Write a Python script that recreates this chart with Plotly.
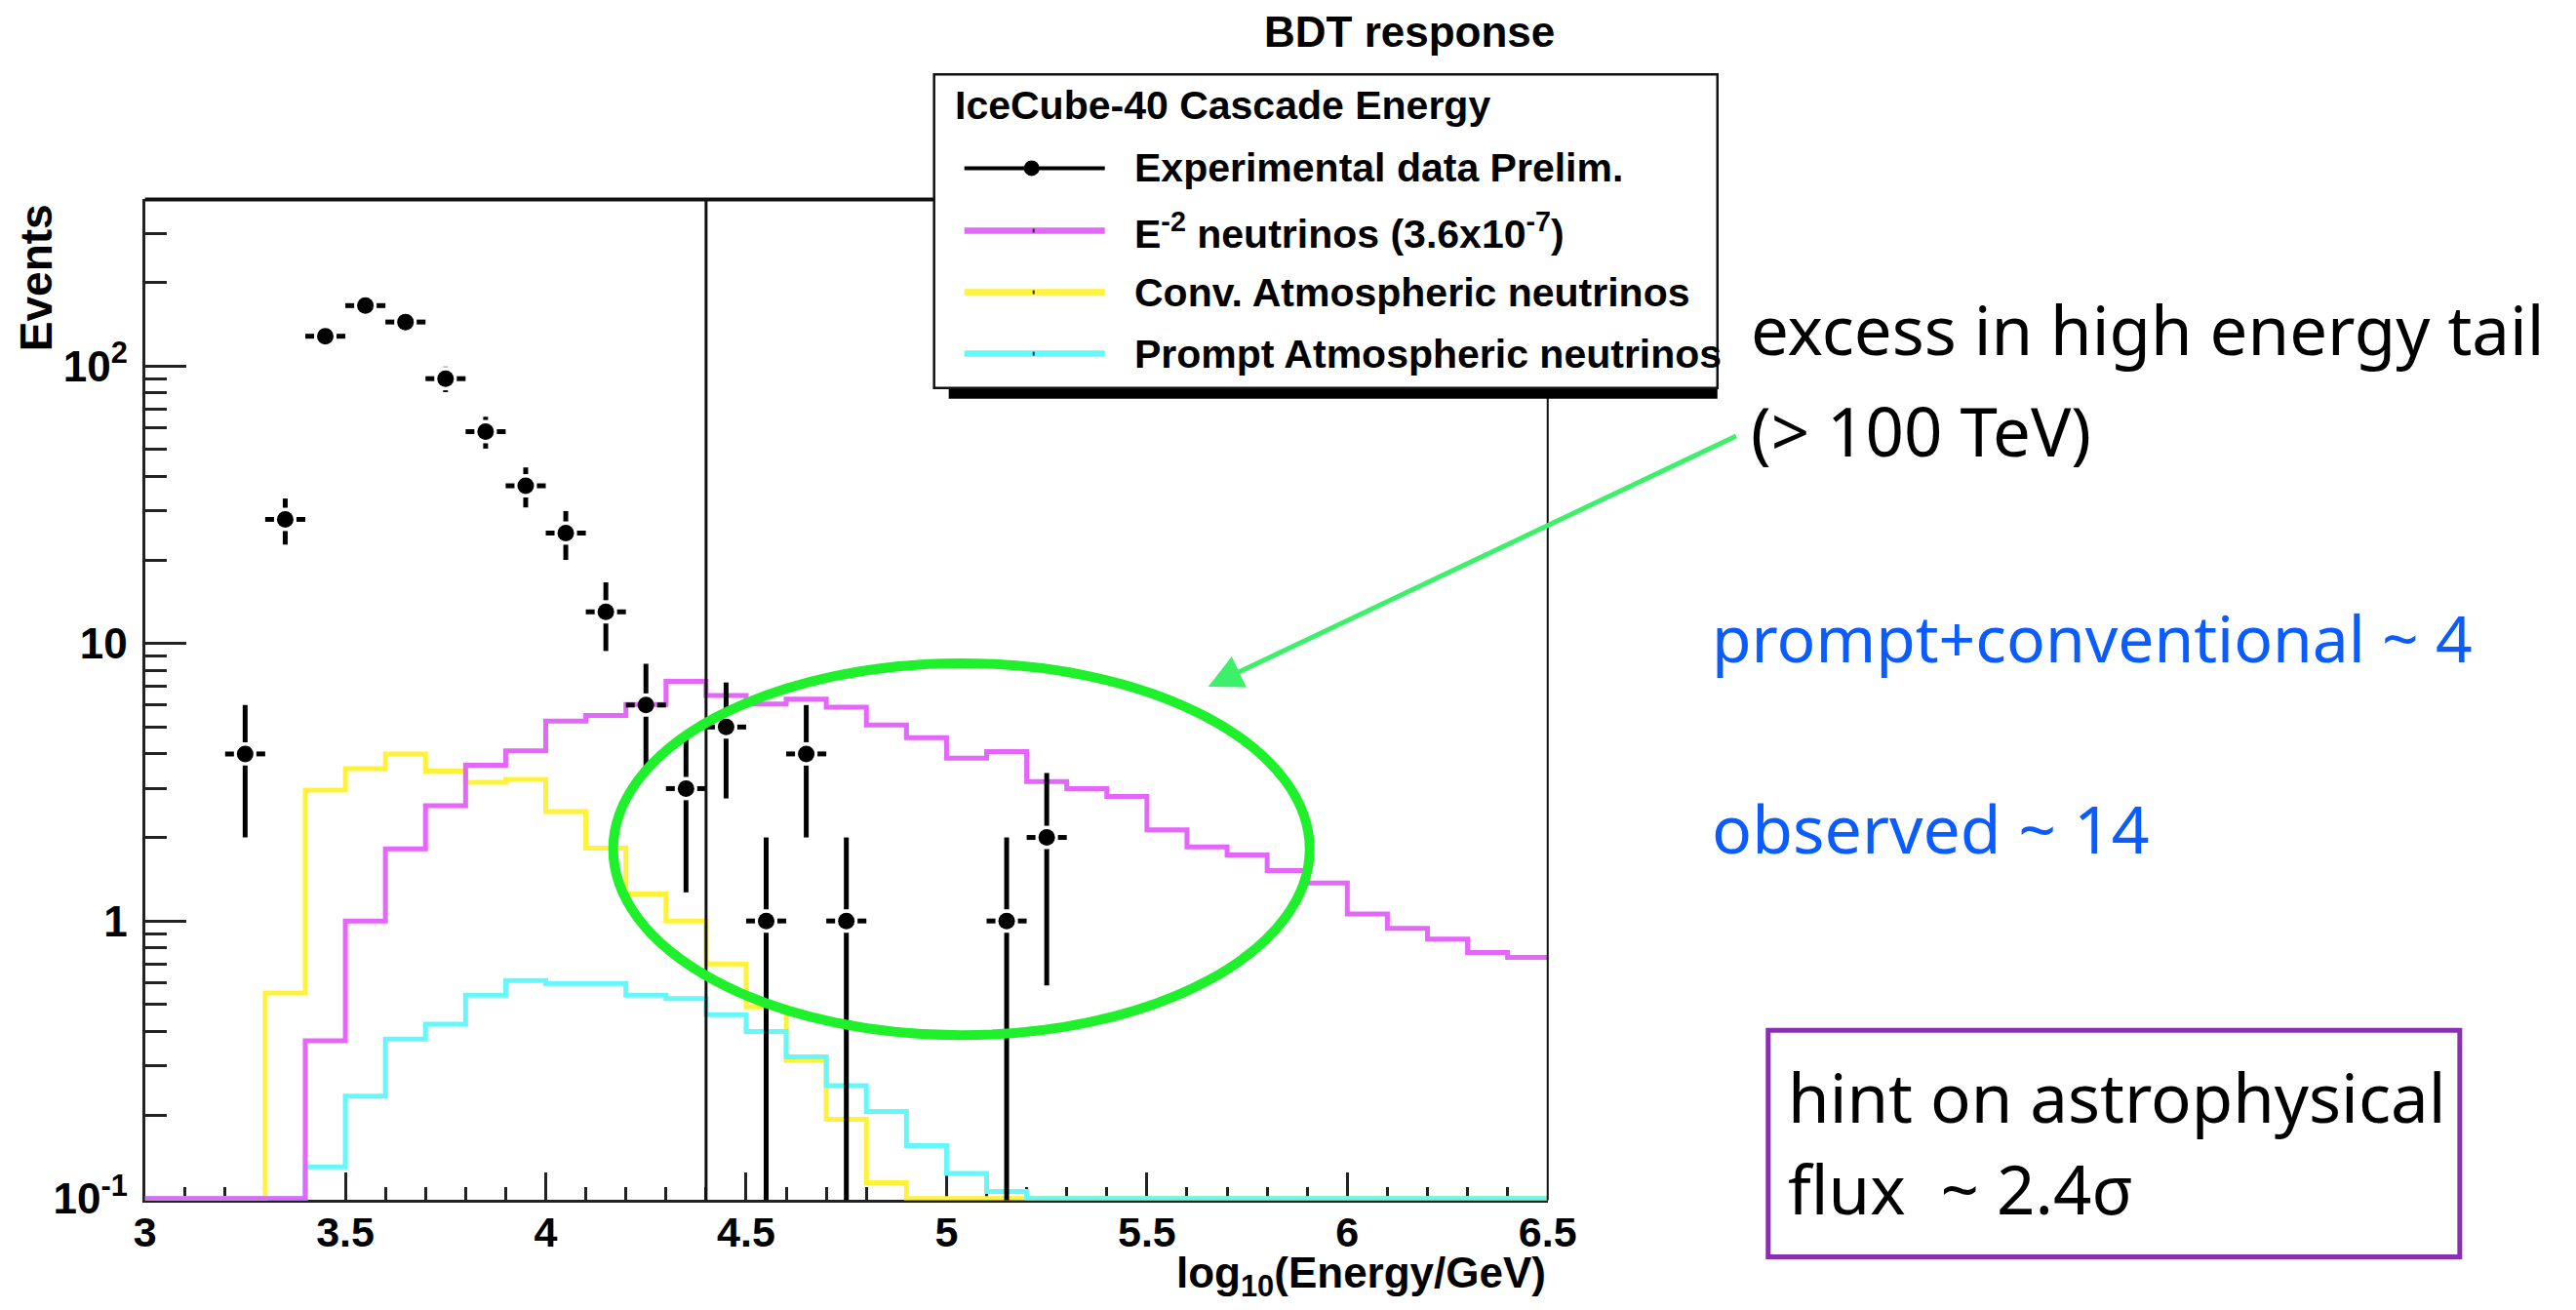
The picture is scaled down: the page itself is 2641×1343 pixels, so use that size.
import numpy as np
import plotly.graph_objects as go

# ---------------- data ----------------
bin_edges = [3.0, 3.1, 3.2, 3.3, 3.4, 3.5, 3.6, 3.7, 3.8, 3.9, 4.0, 4.1, 4.2, 4.3,
             4.4, 4.5, 4.6, 4.7, 4.8, 4.9, 5.0, 5.1, 5.2, 5.3, 5.4, 5.5, 5.6, 5.7,
             5.8, 5.9, 6.0, 6.1, 6.2, 6.3, 6.4, 6.5]

e2_neutrinos = [0, 0, 0, 0, 0.37, 1.0, 1.82, 2.6, 3.64, 4.1, 5.25, 5.5, 6.03, 7.3,
                6.5, 6.05, 6.3, 5.9, 5.08, 4.58, 3.86, 4.08, 3.18, 3.0, 2.81, 2.13,
                1.85, 1.73, 1.52, 1.37, 1.06, 0.94, 0.86, 0.77, 0.74]

conv_atmospheric = [0, 0, 0, 0.55, 2.96, 3.54, 4.0, 3.47, 3.16, 3.24, 2.48, 1.83,
                    1.25, 1.0, 0.70, 0.49, 0.314, 0.193, 0.114, 0, 0, 0, 0, 0, 0,
                    0, 0, 0, 0, 0, 0, 0, 0, 0, 0]

prompt_atmospheric = [0, 0, 0, 0, 0.13, 0.234, 0.375, 0.425, 0.54, 0.61, 0.595,
                      0.595, 0.54, 0.525, 0.46, 0.40, 0.324, 0.255, 0.206, 0.155,
                      0.123, 0.106, 0, 0, 0, 0, 0, 0, 0, 0, 0, 0, 0, 0, 0]

data_centers = [3.25, 3.35, 3.45, 3.55, 3.65, 3.75, 3.85, 3.95, 4.05, 4.15, 4.25,
                4.35, 4.45, 4.55, 4.65, 4.75, 5.15, 5.25]
data_counts = [4, 28, 128, 165, 144, 90, 58, 37, 25, 13, 6, 3, 5, 1, 4, 1, 1, 2]

cut_value = 4.4

x_tick_vals = [3, 3.5, 4, 4.5, 5, 5.5, 6, 6.5]
x_tick_text = ["3", "3.5", "4", "4.5", "5", "5.5", "6", "6.5"]
y_tick_vals = [0.1, 1, 10, 100]
y_tick_text = ["10<sup>-1</sup>", "1", "10", "10<sup>2</sup>"]
y_minor_vals = [0.2, 0.3, 0.4, 0.5, 0.6, 0.7, 0.8, 0.9,
                2, 3, 4, 5, 6, 7, 8, 9,
                20, 30, 40, 50, 60, 70, 80, 90, 200, 300]

legend_labels = ["Experimental data Prelim.",
                 "E<sup>-2</sup> neutrinos (3.6x10<sup>-7</sup>)",
                 "Conv. Atmospheric neutrinos",
                 "Prompt Atmospheric neutrinos"]

# ---------------- styling ----------------
W, H = 2641, 1343
MAGENTA = "#e466fb"
YELLOW = "#fff23a"
CYAN = "#66f7fb"
AXC = "#222222"
ROOT_FONT = "Liberation Sans"
HAND_FONT = "Noto Sans"
BLUE = "#0a5cff"

# the captured page comes out slightly scaled; place things so that they land
# on the intended pixel positions of the 2641x1343 picture
SX, OX = 0.984, 11.4
SY, OY = 0.982, 0.7


def fx(x):
    return (x - OX) / SX


def fy(y):
    return (y - OY) / SY


def px(x):
    return fx(x) / W


def py(y):
    return 1 - fy(y) / H


Y_FLOOR = 0.1  # histogram contents below the axis minimum are drawn at the minimum


def hist_xy(vals):
    v = [max(a, Y_FLOOR) for a in vals]
    return list(bin_edges), v + [v[-1]]


fig = go.Figure()

for vals, col in [(conv_atmospheric, YELLOW), (prompt_atmospheric, CYAN),
                  (e2_neutrinos, MAGENTA)]:
    hx, hy = hist_xy(vals)
    fig.add_trace(go.Scatter(x=hx, y=hy, mode="lines", line_shape="hv",
                             line=dict(color=col, width=5), hoverinfo="skip",
                             showlegend=False))

# data error bars (Poisson sqrt(N)) with a small gap around the marker
half = (bin_edges[1] - bin_edges[0]) / 2
gap_x = 0.028
gap_y = 10 ** 0.042
ex, ey = [], []
for c, n in zip(data_centers, data_counts):
    err = float(np.sqrt(n))
    ex += [c - half, c - gap_x, None, c + gap_x, c + half, None]
    ey += [n, n, None, n, n, None]
    up = n + err
    lo = n - err if n - err > 0 else 1e-3
    if up > n * gap_y:
        ex += [c, c, None]
        ey += [n * gap_y, up, None]
    if lo < n / gap_y:
        ex += [c, c, None]
        ey += [n / gap_y, lo, None]

fig.add_trace(go.Scatter(x=ex, y=ey, mode="lines", line=dict(color="black", width=5),
                         hoverinfo="skip", showlegend=False, connectgaps=False))
fig.add_trace(go.Scatter(x=data_centers, y=data_counts, mode="markers",
                         marker=dict(color="black", size=17), showlegend=False))

x0d, x1d = 148, 1586
y_top, y_bot = 205, 1230

fig.update_layout(
    width=W, height=H,
    margin=dict(l=0, r=0, t=0, b=0),
    paper_bgcolor="white", plot_bgcolor="white",
    xaxis=dict(domain=[px(x0d), px(x1d)], range=[3, 6.5],
               tickmode="array", tickvals=x_tick_vals, ticktext=x_tick_text,
               ticks="inside", ticklen=28, tickwidth=3, tickcolor=AXC,
               minor=dict(dtick=0.1, ticks="inside", ticklen=13, tickwidth=3,
                          tickcolor=AXC, showgrid=False),
               showline=True, linewidth=3, linecolor=AXC, showgrid=False,
               zeroline=False, layer="below traces", ticklabelstandoff=-7,
               tickfont=dict(family=ROOT_FONT, size=43, color="black", weight="bold")),
    yaxis=dict(domain=[py(y_bot), py(y_top)], type="log", range=[-1.006, 2.60],
               tickmode="array", tickvals=y_tick_vals, ticktext=y_tick_text,
               ticks="inside", ticklen=42, tickwidth=3, tickcolor=AXC,
               minor=dict(tickmode="array", tickvals=y_minor_vals, ticks="inside",
                          ticklen=22, tickwidth=3, tickcolor=AXC, showgrid=False),
               showline=True, linewidth=3, linecolor=AXC, showgrid=False,
               zeroline=False, layer="below traces", ticklabelstandoff=6,
               tickfont=dict(family=ROOT_FONT, size=44, color="black", weight="bold")),
    showlegend=False,
)

shapes = []
# frame: top (thick) and right (thin)
shapes.append(dict(type="line", xref="x domain", yref="y domain", x0=0, x1=1, y0=1, y1=1,
                   line=dict(color="#111111", width=4), layer="above"))
shapes.append(dict(type="line", xref="x domain", yref="y domain", x0=1, x1=1, y0=0, y1=1,
                   line=dict(color="#111111", width=2), layer="above"))
# cut line
shapes.append(dict(type="line", xref="x", yref="y domain", x0=cut_value, x1=cut_value,
                   y0=0, y1=1, line=dict(color="#111111", width=3), layer="above"))
# legend box with shadow
shapes.append(dict(type="rect", xref="paper", yref="paper", x0=px(972), x1=px(1760),
                   y0=py(409), y1=py(396), fillcolor="black", line=dict(width=0),
                   layer="above"))
shapes.append(dict(type="rect", xref="paper", yref="paper", x0=px(957), x1=px(1760),
                   y0=py(398), y1=py(77), fillcolor="white",
                   line=dict(color="#111111", width=2.5), layer="above"))
# legend samples
ly = [173, 237, 300, 363]
shapes.append(dict(type="line", xref="paper", yref="paper", x0=px(988), x1=px(1132),
                   y0=py(ly[0]), y1=py(ly[0]), line=dict(color="black", width=4),
                   layer="above"))
shapes.append(dict(type="circle", xref="paper", yref="paper", x0=px(1049), x1=px(1065),
                   y0=py(181), y1=py(165), fillcolor="black", line=dict(width=0),
                   layer="above"))
for yy, col in zip(ly[1:], [MAGENTA, YELLOW, CYAN]):
    shapes.append(dict(type="line", xref="paper", yref="paper", x0=px(988), x1=px(1132),
                       y0=py(yy), y1=py(yy), line=dict(color=col, width=6.5),
                       layer="above"))
    shapes.append(dict(type="line", xref="paper", yref="paper", x0=px(1059), x1=px(1059),
                       y0=py(yy - 2), y1=py(yy + 2), line=dict(color="#333333", width=2),
                       layer="above"))
# green ellipse
shapes.append(dict(type="circle", xref="paper", yref="paper", x0=px(628), x1=px(1342),
                   y0=py(1061), y1=py(680), line=dict(color="#1ef02c", width=10),
                   layer="above"))
# purple box
shapes.append(dict(type="rect", xref="paper", yref="paper", x0=px(1812), x1=px(2521),
                   y0=py(1288), y1=py(1056), line=dict(color="#8a2fb0", width=5),
                   layer="above"))
fig.update_layout(shapes=shapes)

ann = []


def text(t, x, y, size, font=ROOT_FONT, color="black", xanchor="left", bold=True,
         angle=0):
    f = dict(family=font, size=size, color=color)
    if bold:
        f["weight"] = "bold"
    ann.append(dict(text=t, x=px(x), y=py(y), xref="paper", yref="paper",
                    xanchor=xanchor, yanchor="middle", showarrow=False, font=f,
                    textangle=angle))


text("BDT response", 1444, 33, 44, xanchor="center")
text("Events", 36, 285, 46, xanchor="center", angle=-90)
text("log<sub>10</sub>(Energy/GeV)", 1586, 1308, 44, xanchor="right")
text("IceCube-40 Cascade Energy", 976, 109, 41)
for yy, lab in zip(ly, legend_labels):
    text(lab, 1160, yy, 41)

text("excess in high energy tail", 1792, 337, 69, font=HAND_FONT, bold=False)
text("(> 100 TeV)", 1792, 441, 69, font=HAND_FONT, bold=False)
text("prompt+conventional ~ 4", 1752, 653, 66, font=HAND_FONT, color=BLUE, bold=False)
text("observed ~ 14", 1752, 848, 68, font=HAND_FONT, color=BLUE, bold=False)
text("hint on astrophysical", 1830, 1124, 69, font=HAND_FONT, bold=False)
text("flux\u00a0\u00a0~ 2.4\u03c3", 1830, 1218, 69, font=HAND_FONT, bold=False)

# arrow pointing at the ellipse
ann.append(dict(text="", x=px(1238), y=py(704), xref="paper", yref="paper",
                ax=fx(1772) - fx(1238), ay=fy(451) - fy(704), axref="pixel",
                ayref="pixel", showarrow=True, arrowhead=2, arrowsize=1.4,
                arrowwidth=5, arrowcolor="#3cf06a", standoff=0))

fig.update_layout(annotations=ann)

post = ("document.documentElement.style.margin='0';"
        "document.body.style.margin='0';"
        "document.body.style.overflow='hidden';")
fig.write_html("out.html", post_script=post)
